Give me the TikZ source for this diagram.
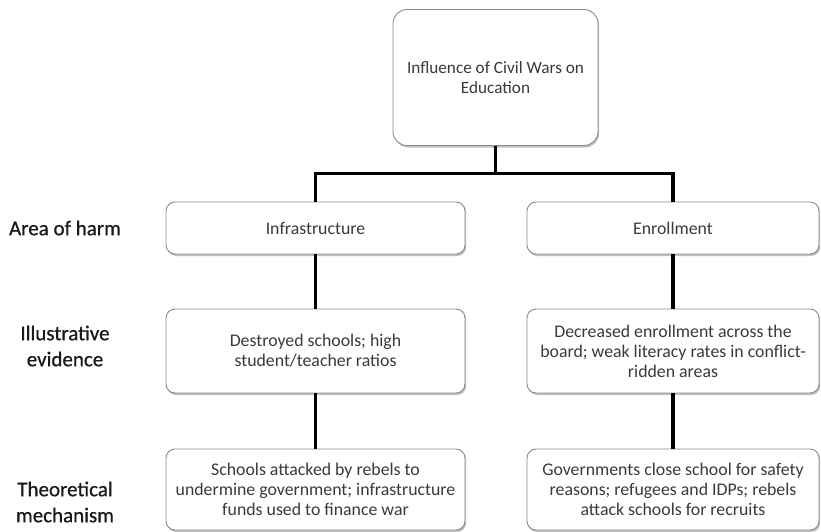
\documentclass[tikz,border=0pt]{standalone}
\usepackage{fontspec}
\setmainfont{Carlito}
\newfontfamily\labelfont{Carlito}[FakeBold=0.7]
\usetikzlibrary{shadows}
\definecolor{boxtext}{HTML}{3A3A3A}
\definecolor{boxline}{HTML}{8A8A8A}
\definecolor{labeltext}{HTML}{1A1A1A}
\tikzset{
  box/.style={draw=boxline, line width=0.9pt, fill=white, rounded corners=9pt,
    align=center, text=boxtext, inner sep=3pt,
    font=\fontsize{17.8}{20}\selectfont,
    drop shadow={shadow xshift=1.2pt, shadow yshift=-2pt, fill=black!50, opacity=0.5}},
  rowlabel/.style={align=center, text=labeltext, font=\labelfont\fontsize{21}{26}\selectfont},
  link/.style={draw=black, line width=3.6pt}
}
\begin{document}
\begin{tikzpicture}[x=1pt, y=-1pt]
  \useasboundingbox[fill=white] (0,0) rectangle (821,532);

  % root of the tree
  \node[box, rounded corners=14pt, minimum width=205pt, minimum height=136pt,
        font=\fontsize{17.2}{20}\selectfont]
    (root) at (495.5,77.5) {Influence of Civil Wars on\\Education};

  % area of harm
  \node[box, minimum width=299pt, minimum height=52pt] (infra) at (315.5,228) {Infrastructure};
  \node[box, minimum width=292pt, minimum height=52pt] (enrol) at (673,228) {Enrollment};

  % illustrative evidence
  \node[box, minimum width=299pt, minimum height=84pt] (evL) at (315.5,351)
    {Destroyed schools; high\\student/teacher ratios};
  \node[box, minimum width=292pt, minimum height=84pt] (evR) at (673,351)
    {Decreased enrollment across the\\board; weak literacy rates in conflict-\\ridden areas};

  % theoretical mechanism
  \node[box, minimum width=299pt, minimum height=81pt] (mechL) at (315.5,489.5)
    {Schools attacked by rebels to\\undermine government; infrastructure\\funds used to finance war};
  \node[box, minimum width=292pt, minimum height=81pt] (mechR) at (673,489.5)
    {Governments close school for safety\\reasons; refugees and IDPs; rebels\\attack schools for recruits};

  % row labels
  \node[rowlabel] (lab1) at (65,228) {Area of harm};
  \node[rowlabel] (lab2) at (65,346) {Illustrative\\evidence};
  \node[rowlabel] (lab3) at (65,502) {Theoretical\\mechanism};

  % connectors
  \coordinate (fork) at (495.5,173.5);
  \draw[link] (root.south) -- (fork);
  \draw[link] (infra.north) |- (fork) -| (enrol.north);
  \draw[link] (infra.south) -- (evL.north);
  \draw[link] (evL.south) -- (mechL.north);
  \draw[link] (enrol.south) -- (evR.north);
  \draw[link] (evR.south) -- (mechR.north);
\end{tikzpicture}
\end{document}
